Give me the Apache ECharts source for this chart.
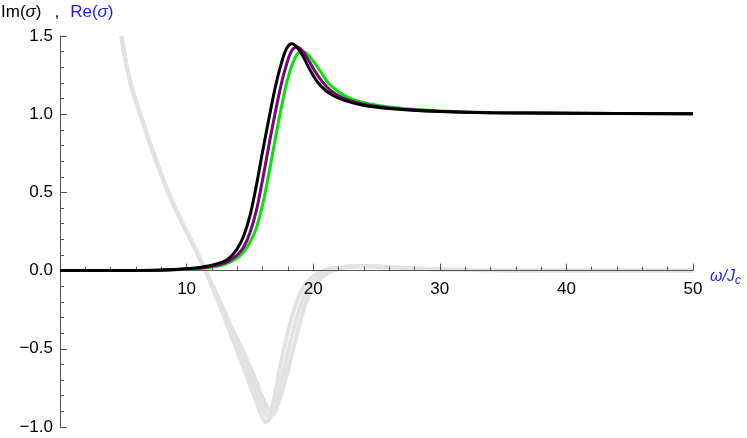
<!DOCTYPE html>
<html>
<head>
<meta charset="utf-8">
<script src="https://cdn.jsdelivr.net/npm/echarts@6/dist/echarts.min.js"></script>
<style>
  html, body { margin: 0; padding: 0; background: #fff; }
  #main { width: 747px; height: 438px; }
</style>
</head>
<body>
<div id="main"></div>
<script>
// Re(sigma): three curves (green, purple, black)
var blackX = [0, 4, 6, 8, 10, 11, 12, 13, 13.5, 14, 14.5, 15, 15.5, 16, 16.5, 17, 17.5, 17.9, 18.3, 18.7, 19.2, 19.7, 20.3, 21, 21.8, 22.8, 24, 25.5, 27.5, 30, 34, 40, 50];
var blackY = [0, 0, 0.001, 0.004, 0.012, 0.02, 0.034, 0.06, 0.09, 0.14, 0.22, 0.35, 0.54, 0.76, 0.97, 1.17, 1.33, 1.42, 1.45, 1.43, 1.37, 1.29, 1.21, 1.15, 1.11, 1.08, 1.055, 1.04, 1.027, 1.017, 1.01, 1.006, 1.003];

var purpleX = [0, 4, 6, 8, 10, 11, 12, 13, 13.5, 14, 14.5, 15, 15.5, 16, 16.5, 17, 17.5, 17.9, 18.3, 18.7, 19.1, 19.6, 20.1, 20.7, 21.4, 22.2, 23.2, 24.4, 25.8, 27.8, 30, 34, 40, 50];
var purpleY = [0, 0, 0.001, 0.003, 0.01, 0.017, 0.027, 0.048, 0.07, 0.1, 0.15, 0.24, 0.38, 0.58, 0.8, 1.01, 1.2, 1.32, 1.405, 1.43, 1.41, 1.35, 1.28, 1.21, 1.15, 1.11, 1.08, 1.058, 1.042, 1.028, 1.018, 1.01, 1.006, 1.003];

var greenX = [0, 4, 6, 8, 10, 11, 12, 13, 14, 14.5, 15, 15.5, 16, 16.5, 17, 17.5, 18, 18.4, 18.8, 19.2, 19.6, 20.1, 20.6, 21.2, 21.9, 22.7, 23.7, 25, 26.5, 28.5, 31, 35, 41, 50];
var greenY = [0, 0, 0.001, 0.003, 0.008, 0.013, 0.021, 0.04, 0.08, 0.12, 0.18, 0.27, 0.42, 0.62, 0.84, 1.05, 1.23, 1.33, 1.39, 1.40, 1.38, 1.33, 1.27, 1.20, 1.15, 1.11, 1.08, 1.058, 1.042, 1.028, 1.018, 1.01, 1.006, 1.003];

// Im(sigma): three light grey curves
var grey1X = [4.85, 5.5, 6.3, 7.3, 8.4, 9.5, 10.5, 11.5, 12.5, 13.4, 14.2, 15.0, 15.6, 16.0, 16.25, 16.5, 16.9, 17.6, 18.2, 18.7, 19.2, 19.8, 20.5, 21.3, 22.3, 23.5, 25, 27, 30, 35, 42, 50];
var grey1Y = [1.5, 1.22, 1.01, 0.77, 0.53, 0.33, 0.17, 0.0, -0.2, -0.39, -0.56, -0.73, -0.86, -0.94, -0.97, -0.95, -0.82, -0.53, -0.33, -0.2, -0.11, -0.05, -0.01, 0.012, 0.025, 0.03, 0.025, 0.015, 0.007, 0.002, 0.001, 0];

var grey2X = [4.85, 5.5, 6.3, 7.3, 8.4, 9.5, 10.5, 11.5, 12.5, 13.5, 14.4, 15.2, 15.8, 16.2, 16.5, 16.75, 17.3, 18.0, 18.6, 19.1, 19.6, 20.2, 20.9, 21.7, 22.7, 23.9, 25.4, 27.4, 30.4, 35, 42, 50];
var grey2Y = [1.5, 1.22, 1.01, 0.77, 0.53, 0.33, 0.17, 0.0, -0.19, -0.38, -0.55, -0.71, -0.83, -0.91, -0.94, -0.92, -0.78, -0.52, -0.33, -0.2, -0.11, -0.05, -0.01, 0.012, 0.025, 0.03, 0.025, 0.015, 0.007, 0.002, 0.001, 0];

var grey3X = [4.85, 5.5, 6.3, 7.3, 8.4, 9.5, 10.5, 11.5, 12.6, 13.6, 14.6, 15.4, 16.0, 16.4, 16.75, 17.0, 17.6, 18.4, 19.0, 19.5, 20.0, 20.6, 21.3, 22.1, 23.1, 24.3, 25.8, 27.8, 30.8, 35, 42, 50];
var grey3Y = [1.5, 1.22, 1.01, 0.77, 0.53, 0.33, 0.17, 0.0, -0.19, -0.37, -0.54, -0.69, -0.81, -0.88, -0.92, -0.9, -0.76, -0.51, -0.32, -0.19, -0.11, -0.05, -0.01, 0.012, 0.025, 0.03, 0.025, 0.015, 0.007, 0.002, 0.001, 0];

var xTicks = [0, 10, 20, 30, 40, 50];
var yTicks = [-1, -0.5, 0, 0.5, 1, 1.5];

function pairs(xs, ys) {
    return xs.map(function (x, i) { return [x, ys[i]]; });
}

var AXIS_COLOR = '#555555';
var FONT = 'Liberation Sans, Arial, sans-serif';
var BLUE = '#1a1aff';
var GRID = { left: 60, right: 54, top: 36, bottom: 11 };
var chartHeight = 438 - GRID.top - GRID.bottom;
// move the x axis up to y = 0 (onZero is not picked up here)
var zeroOffset = -chartHeight * (0 - yTicks[0]) / (yTicks[yTicks.length - 1] - yTicks[0]);

function lineSeries(name, xs, ys, color, width, z) {
    return {
        name: name,
        type: 'line',
        data: pairs(xs, ys),
        smooth: 0.35,
        symbol: 'none',
        showSymbol: false,
        clip: true,
        z: z,
        lineStyle: { color: color, width: width },
        emphasis: { disabled: true }
    };
}

var myChart = echarts.init(document.getElementById('main'), null, { renderer: 'canvas' });

var option = {
    animation: false,
    grid: { left: GRID.left, right: GRID.right, top: GRID.top, bottom: GRID.bottom, containLabel: false },
    graphic: [{
        type: 'text',
        left: 1,
        top: 4,
        style: {
            text: '{a|Im(}{s|σ}{a|)}{c|,}{b|Re(}{t|σ}{b|)}',
            rich: {
                a: { fontFamily: FONT, fontSize: 17, fill: '#000' },
                s: { fontFamily: FONT, fontSize: 17, fontStyle: 'italic', fill: '#000' },
                c: { fontFamily: FONT, fontSize: 17, fill: '#000', padding: [0, 11, 0, 13] },
                b: { fontFamily: FONT, fontSize: 17, fill: BLUE },
                t: { fontFamily: FONT, fontSize: 17, fontStyle: 'italic', fill: BLUE }
            }
        }
    }],
    xAxis: {
        type: 'value',
        position: 'bottom',
        offset: zeroOffset,
        z: 2,
        min: xTicks[0],
        max: xTicks[xTicks.length - 1],
        interval: 10,
        name: '{n|ω/J}{sub|c}',
        nameLocation: 'end',
        nameGap: 17,
        nameTextStyle: {
            rich: {
                n: { fontFamily: FONT, fontSize: 16, fontStyle: 'italic', color: BLUE, padding: [12, 0, 0, 0] },
                sub: { fontFamily: FONT, fontSize: 12, fontStyle: 'italic', color: BLUE, padding: [20, 0, 0, 0] }
            }
        },
        axisLine: { show: true, onZero: false, lineStyle: { color: AXIS_COLOR, width: 1 } },
        axisTick: { show: true, inside: true, length: 7, lineStyle: { color: AXIS_COLOR } },
        minorTick: { show: true, splitNumber: 5, length: 4, lineStyle: { color: AXIS_COLOR } },
        splitLine: { show: false },
        axisLabel: {
            show: true,
            margin: 10,
            color: '#000',
            fontFamily: FONT,
            fontSize: 17,
            formatter: function (v) { return v === 0 ? '' : String(v); }
        }
    },
    yAxis: {
        type: 'value',
        z: 2,
        min: yTicks[0],
        max: yTicks[yTicks.length - 1],
        interval: 0.5,
        axisLine: { show: true, onZero: false, lineStyle: { color: AXIS_COLOR, width: 1 } },
        axisTick: { show: true, inside: true, length: 7, lineStyle: { color: AXIS_COLOR } },
        minorTick: { show: true, splitNumber: 5, length: 4, lineStyle: { color: AXIS_COLOR } },
        splitLine: { show: false },
        axisLabel: {
            show: true,
            margin: 7,
            color: '#000',
            fontFamily: FONT,
            fontSize: 17,
            formatter: function (v) { return v.toFixed(1).replace('-', '\u2212'); }
        }
    },
    series: [
        lineSeries('im1', grey1X, grey1Y, '#e2e2e2', 4, 1),
        lineSeries('im2', grey2X, grey2Y, '#e2e2e2', 4, 1),
        lineSeries('im3', grey3X, grey3Y, '#e2e2e2', 4, 1),
        lineSeries('green', greenX, greenY, '#00e600', 3, 3),
        lineSeries('purple', purpleX, purpleY, '#800080', 3, 4),
        lineSeries('black', blackX, blackY, '#000000', 3, 5)
    ]
};

myChart.setOption(option);
</script>
</body>
</html>
